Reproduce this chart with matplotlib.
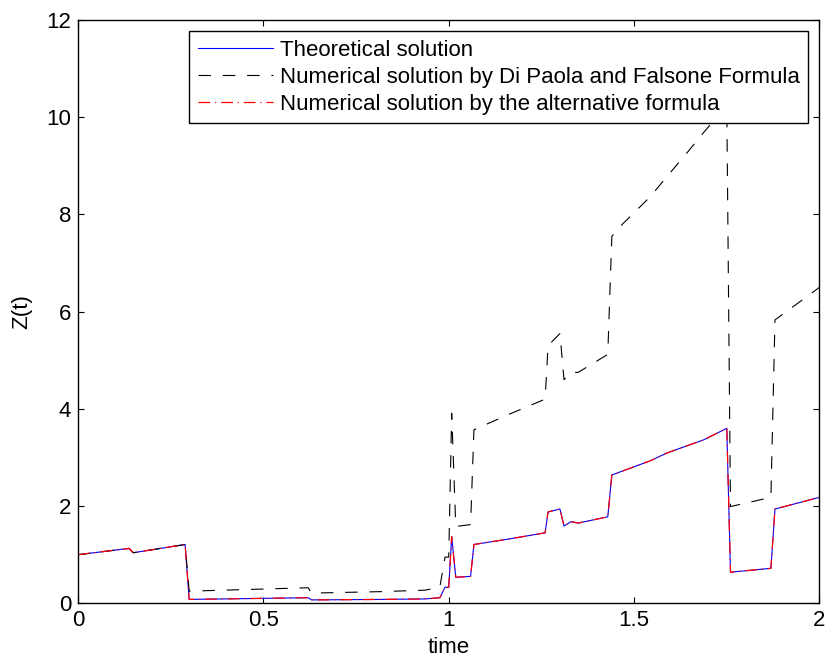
import numpy as np
import matplotlib.pyplot as plt

plt.rcParams['font.family'] = ['Liberation Sans', 'DejaVu Sans']
plt.rcParams['lines.scale_dashes'] = False

# theoretical solution
t_theo = [0.0, 0.138, 0.149, 0.289, 0.300, 0.621, 0.630, 0.815, 0.936, 0.976, 0.990,
          1.000, 1.008, 1.019, 1.059, 1.068, 1.160, 1.260, 1.268, 1.300, 1.311, 1.330,
          1.349, 1.429, 1.440, 1.543, 1.588, 1.624, 1.687, 1.750, 1.760, 1.869, 1.880, 2.0]
z_theo = [1.00, 1.13, 1.04, 1.21, 0.08, 0.115, 0.07, 0.08, 0.09, 0.115, 0.33,
          0.33, 1.37, 0.535, 0.555, 1.21, 1.32, 1.45, 1.88, 1.94, 1.59, 1.68,
          1.65, 1.78, 2.64, 2.93, 3.09, 3.19, 3.36, 3.60, 0.64, 0.72, 1.94, 2.18]

# Di Paola and Falsone formula
t_dpf = [0.0, 0.138, 0.149, 0.289, 0.300, 0.621, 0.630, 0.815, 0.936, 0.976, 0.990,
         1.000, 1.008, 1.019, 1.059, 1.068, 1.160, 1.260, 1.268, 1.300, 1.311, 1.330,
         1.349, 1.429, 1.440, 1.466, 1.543, 1.592, 1.642, 1.687, 1.750, 1.760, 1.869,
         1.880, 2.0]
z_dpf = [1.00, 1.13, 1.04, 1.21, 0.25, 0.32, 0.21, 0.24, 0.27, 0.33, 0.95,
         0.95, 3.91, 1.58, 1.62, 3.57, 3.88, 4.20, 5.30, 5.55, 4.60, 4.75,
         4.75, 5.12, 7.55, 7.78, 8.36, 8.81, 9.26, 9.68, 10.25, 1.99, 2.18,
         5.83, 6.50]

# alternative formula
t_alt = [0.0, 0.138, 0.149, 0.289, 0.300, 0.621, 0.630, 0.815, 0.936, 0.976, 0.990,
         1.000, 1.008, 1.019, 1.059, 1.068, 1.160, 1.260, 1.268, 1.300, 1.311, 1.330,
         1.349, 1.429, 1.440, 1.543, 1.588, 1.624, 1.687, 1.750, 1.760, 1.869, 1.880, 2.0]
z_alt = [1.00, 1.13, 1.04, 1.21, 0.08, 0.115, 0.07, 0.08, 0.09, 0.115, 0.33,
         0.33, 1.37, 0.535, 0.555, 1.21, 1.32, 1.45, 1.88, 1.94, 1.59, 1.68,
         1.65, 1.78, 2.64, 2.93, 3.09, 3.19, 3.36, 3.60, 0.64, 0.72, 1.94, 2.18]

fs = 16

fig = plt.figure(figsize=(8.25, 6.64), dpi=100)
ax = fig.add_axes([0.0945, 0.0914, 0.8988, 0.8785])

ax.plot(t_theo, z_theo, color='blue', lw=0.8, label='Theoretical solution')
ax.plot(t_dpf, z_dpf, color='black', lw=0.8, dashes=(9, 8.5),
        label='Numerical solution by Di Paola and Falsone Formula')
ax.plot(t_alt, z_alt, color='red', lw=0.9, dashes=(8.5, 3.5, 0.8, 3.5),
        label='Numerical solution by the alternative formula')

ax.set_xlim(0, 2)
ax.set_ylim(0, 12)
ax.set_xticks([0, 0.5, 1, 1.5, 2])
ax.set_xticklabels(['0', '0.5', '1', '1.5', '2'])
ax.set_yticks(range(0, 13, 2))
ax.tick_params(direction='in', length=4.5, width=0.8, top=True, right=True,
               labelsize=fs, pad=5)
for s in ax.spines.values():
    s.set_linewidth(1.0)

ax.set_xlabel('time', fontsize=fs, labelpad=4)
ax.set_ylabel('Z(t)', fontsize=fs, labelpad=10)

leg = ax.legend(loc='upper right', bbox_to_anchor=(0.985, 0.981), borderaxespad=0,
                fontsize=fs, fancybox=False, edgecolor='black', framealpha=1,
                handlelength=3.4, handletextpad=0.3, labelspacing=0.28,
                borderpad=0.38)
leg.get_frame().set_linewidth(1.0)

plt.savefig('out.png', dpi=100)
